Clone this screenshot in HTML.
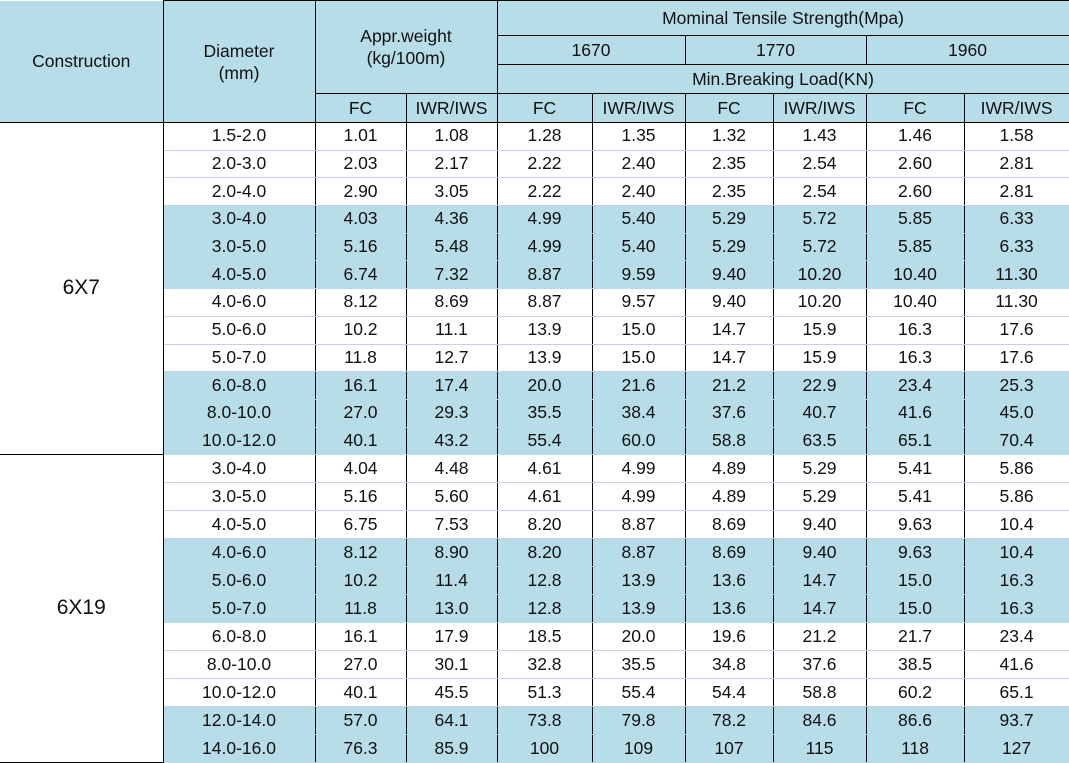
<!DOCTYPE html>
<html><head><meta charset="utf-8">
<style>
html,body{margin:0;padding:0;background:#fff;width:1069px;height:763px;overflow:hidden}
table{border-collapse:collapse;table-layout:fixed;font-family:"Liberation Sans",Arial,sans-serif;font-size:17.5px;color:#111;width:1069px}
td{padding:0;text-align:center;vertical-align:middle;border-left:1px solid #000;border-right:1px solid #000;white-space:nowrap;overflow:hidden;line-height:18px}
.h td{background:#b7dde8;border-top:1px solid #000;border-bottom:1px solid #000;line-height:22px}
.d td{border-top:1px solid #c9cfe0;border-bottom:1px solid #c9cfe0;padding-bottom:2px}
.d.b td.v{background:#b7dde8;border-top-color:#b7dde8;border-bottom-color:#b7dde8}
.d td.c{background:#fff;font-size:21px;border-top:1px solid #000;border-bottom:1px solid #000;border-left:none}
.h td.hc{border-left:none;border-top:none}
.d.first td{border-top:1px solid #000}
.d.last td{border-bottom:1px solid #000}
</style></head><body>
<table>
<colgroup><col style="width:163px"><col style="width:152px"><col style="width:91px"><col style="width:91px"><col style="width:95px"><col style="width:93px"><col style="width:88px"><col style="width:93px"><col style="width:98px"><col style="width:105px"></colgroup>
<tbody id="tb">
<tr class="h" style="height:35px">
<td class="hc" rowspan="4">Construction</td>
<td rowspan="4">Diameter<br>(mm)</td>
<td colspan="2" rowspan="3">Appr.weight<br>(kg/100m)</td>
<td colspan="6">Mominal Tensile Strength(Mpa)</td></tr>
<tr class="h" style="height:29px">
<td colspan="2">1670</td>
<td colspan="2">1770</td>
<td colspan="2">1960</td></tr>
<tr class="h" style="height:29px"><td colspan="6">Min.Breaking Load(KN)</td></tr>
<tr class="h" style="height:29px">
<td>FC</td><td>IWR/IWS</td>
<td>FC</td><td>IWR/IWS</td>
<td>FC</td><td>IWR/IWS</td>
<td>FC</td><td>IWR/IWS</td></tr>
</tbody></table>
<script>
const groups=["6X7","6X19"];
const rows7=[
["1.5-2.0","1.01","1.08","1.28","1.35","1.32","1.43","1.46","1.58"],
["2.0-3.0","2.03","2.17","2.22","2.40","2.35","2.54","2.60","2.81"],
["2.0-4.0","2.90","3.05","2.22","2.40","2.35","2.54","2.60","2.81"],
["3.0-4.0","4.03","4.36","4.99","5.40","5.29","5.72","5.85","6.33"],
["3.0-5.0","5.16","5.48","4.99","5.40","5.29","5.72","5.85","6.33"],
["4.0-5.0","6.74","7.32","8.87","9.59","9.40","10.20","10.40","11.30"],
["4.0-6.0","8.12","8.69","8.87","9.57","9.40","10.20","10.40","11.30"],
["5.0-6.0","10.2","11.1","13.9","15.0","14.7","15.9","16.3","17.6"],
["5.0-7.0","11.8","12.7","13.9","15.0","14.7","15.9","16.3","17.6"],
["6.0-8.0","16.1","17.4","20.0","21.6","21.2","22.9","23.4","25.3"],
["8.0-10.0","27.0","29.3","35.5","38.4","37.6","40.7","41.6","45.0"],
["10.0-12.0","40.1","43.2","55.4","60.0","58.8","63.5","65.1","70.4"]];
const rows19=[
["3.0-4.0","4.04","4.48","4.61","4.99","4.89","5.29","5.41","5.86"],
["3.0-5.0","5.16","5.60","4.61","4.99","4.89","5.29","5.41","5.86"],
["4.0-5.0","6.75","7.53","8.20","8.87","8.69","9.40","9.63","10.4"],
["4.0-6.0","8.12","8.90","8.20","8.87","8.69","9.40","9.63","10.4"],
["5.0-6.0","10.2","11.4","12.8","13.9","13.6","14.7","15.0","16.3"],
["5.0-7.0","11.8","13.0","12.8","13.9","13.6","14.7","15.0","16.3"],
["6.0-8.0","16.1","17.9","18.5","20.0","19.6","21.2","21.7","23.4"],
["8.0-10.0","27.0","30.1","32.8","35.5","34.8","37.6","38.5","41.6"],
["10.0-12.0","40.1","45.5","51.3","55.4","54.4","58.8","60.2","65.1"],
["12.0-14.0","57.0","64.1","73.8","79.8","78.2","84.6","86.6","93.7"],
["14.0-16.0","76.3","85.9","100","109","107","115","118","127"]];
const rowH=["27.7px","28px"];
const tb=document.getElementById('tb');
[rows7,rows19].forEach((rows,g)=>{
  rows.forEach((r,i)=>{
    const tr=document.createElement('tr');
    
    
    const blue=Math.floor(i/3)%2===1;
    tr.className='d'+(blue?' b':'')+(i===0?' first':'')+(i===rows.length-1?' last':'');
    tr.style.height=rowH[g];
    if(i===0){
      const c=document.createElement('td');
      
      
      c.className='c';c.rowSpan=rows.length;c.textContent=groups[g];
      tr.appendChild(c);
    }
    r.forEach(v=>{
      const td=document.createElement('td');
      
      
      td.className='v';td.textContent=v;tr.appendChild(td);
    });
    tb.appendChild(tr);
  });
});
</script>
</body></html>
